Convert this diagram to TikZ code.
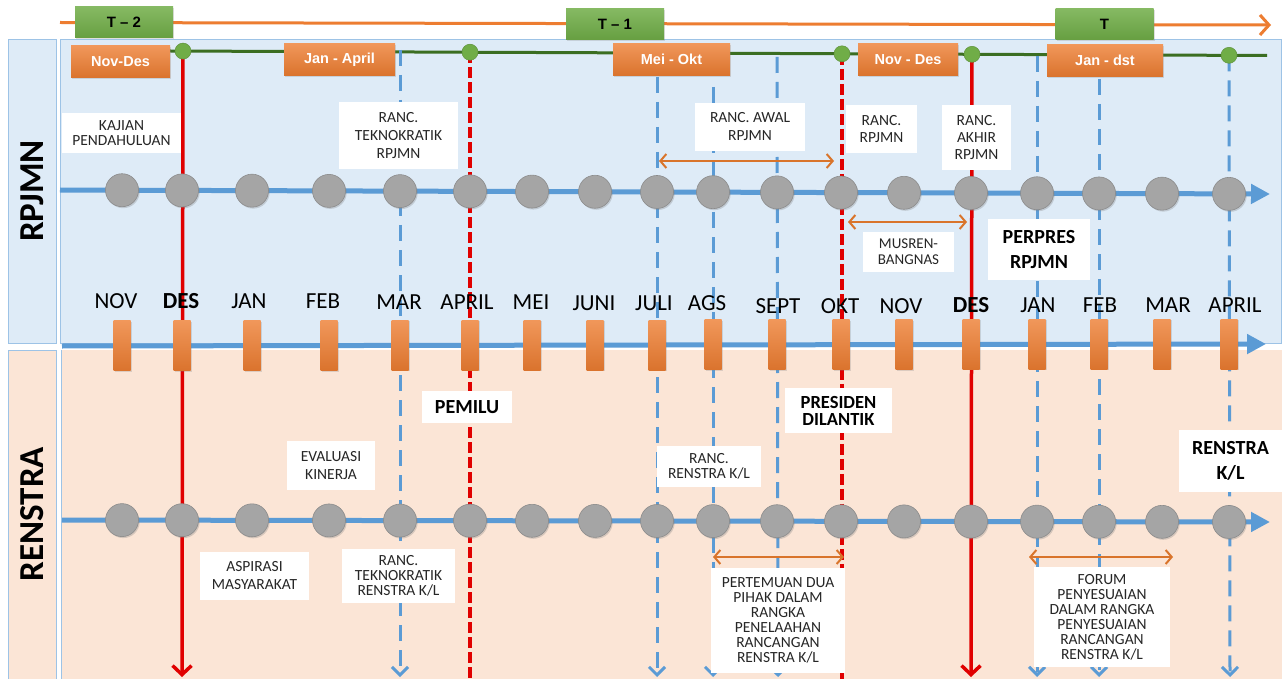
\documentclass[tikz,border=0pt]{standalone}
\usepackage{fontspec}
\setmainfont{Carlito}
\newfontfamily\arialf{Liberation Sans}
\usetikzlibrary{arrows.meta,shadows}
\definecolor{bgblue}{HTML}{DEEBF7}
\definecolor{bgpeach}{HTML}{FBE5D6}
\definecolor{lineblue}{HTML}{5B9BD5}
\definecolor{panelborder}{HTML}{9DC3E6}
\definecolor{greybead}{HTML}{A5A5A5}
\definecolor{orangebox}{HTML}{ED7D31}
\definecolor{greenbox}{HTML}{70AD47}
\definecolor{darkgreen}{HTML}{3B6E22}
\definecolor{redline}{HTML}{E00000}
\definecolor{arrorange}{HTML}{D9742B}
\definecolor{notetext}{HTML}{262626}
\tikzset{
  panelline/.style={draw=panelborder, line width=1pt},
  sidelabel/.style={rotate=90, font=\bfseries\fontsize{35}{40}\selectfont, inner sep=0pt},
  yearline/.style={draw=orangebox, line width=3pt, -{Straight Barb[length=9pt,width=20pt]}},
  greentag/.style={rectangle, top color=greenbox!85!white, bottom color=greenbox!92!black, minimum width=98pt, minimum height=31pt, inner sep=0pt, font=\arialf\bfseries\fontsize{15}{17}\selectfont, drop shadow={opacity=0.25, shadow xshift=1pt, shadow yshift=-1.5pt}},
  orangetag/.style={rectangle, top color=orangebox!80!white, bottom color=orangebox!92!black, minimum height=32pt, inner sep=0pt, text=white, font=\arialf\bfseries\fontsize{14.5}{16}\selectfont, drop shadow={opacity=0.25, shadow xshift=1pt, shadow yshift=-1.5pt}},
  greenline/.style={draw=darkgreen, line width=3pt},
  gdot/.style={circle, fill=greenbox, draw=greenbox!85!black, line width=0.5pt, minimum size=16pt, inner sep=0pt},
  redsolid/.style={draw=redline, line width=3.5pt},
  reddash/.style={draw=redline, line width=4.5pt, dash pattern=on 11pt off 4pt},
  bluedash/.style={draw=lineblue, line width=3pt, dash pattern=on 16pt off 9pt},
  downtip/.style={-{Straight Barb[length=9pt,width=19pt]}},
  bluetip/.style={-{Straight Barb[length=8pt,width=16pt]}},
  mainline/.style={draw=lineblue, line width=5pt, -{Triangle[length=19pt,width=19pt]}},
  bead/.style={circle, fill=greybead, draw=greybead!85!black, line width=0.6pt, minimum size=33pt, inner sep=0pt, drop shadow={opacity=0.3, shadow xshift=1.2pt, shadow yshift=-1.5pt}},
  ticker/.style={rectangle, top color=orangebox!80!white, bottom color=orangebox!92!black, minimum width=17pt, minimum height=50pt, inner sep=0pt, drop shadow={opacity=0.25, shadow xshift=1pt, shadow yshift=-1pt}},
  spanarrow/.style={draw=arrorange, line width=2pt, {Straight Barb[length=6pt,width=14pt]}-{Straight Barb[length=6pt,width=14pt]}},
  note/.style={rectangle, fill=white, align=center, inner sep=0pt, text=notetext, font=\fontsize{15.5}{15}\selectfont},
  boldnote/.style={rectangle, fill=white, align=center, inner sep=0pt, text=black, font=\bfseries\fontsize{20}{25}\selectfont},
  month/.style={font=\fontsize{23}{25}\selectfont, inner sep=0pt, text=black}
}
\begin{document}
\begin{tikzpicture}[x=1pt,y=-1pt]
\useasboundingbox (0,0) rectangle (1282,679);
\fill[white] (0,0) rectangle (1282,679);
% panels
\draw[panelline, fill=bgblue] (8,40) rectangle (56,343);
\draw[panelline, fill=bgblue] (60,40) rectangle (1281,343);
\draw[panelline, fill=bgpeach] (8,350) rectangle (56,685);
\fill[bgpeach] (61,350) rectangle (1282,679);
\draw[panelline] (61,350) -- (61,679);
\node[sidelabel] (sideA) at (32,191) {RPJMN};
\node[sidelabel] (sideB) at (32,514) {RENSTRA};
% year line
\coordinate (yl-start) at (60,22.5);
\coordinate (yl-end) at (1271,25);
\draw[yearline] (yl-start) -- (yl-end);
\node[greentag] (T2) at (124,22.5) {T – 2};
\node[greentag] (T1) at (615,24) {T – 1};
\node[greentag] (T0) at (1104.5,24) {T};
% green line
\coordinate (gl-start) at (170,51);
\coordinate (gl-end) at (1267,55.5);
\draw[greenline] (gl-start) -- (gl-end);
\coordinate (gp1) at (183,51.1);
\coordinate (gp2) at (470,52.2);
\coordinate (gp3) at (842,53.8);
\coordinate (gp4) at (972,54.3);
\coordinate (gp5) at (1229,55.3);
% vertical guide lines
\coordinate (vt5) at (400,50);
\coordinate (vt9) at (657,77);
\coordinate (vt10) at (713,87);
\coordinate (vt11) at (777,57);
\coordinate (vt15) at (1037,56);
\coordinate (vt16) at (1099,79);
\coordinate (vb2) at (182,677);
\coordinate (vb5) at (400,677);
\coordinate (vb6) at (470,680);
\coordinate (vb9) at (657,677);
\coordinate (vb10) at (713,677);
\coordinate (vb11) at (778,677);
\coordinate (vb12) at (842,680);
\coordinate (vb14) at (971,677);
\coordinate (vb15) at (1037,677);
\coordinate (vb16) at (1099,677);
\coordinate (vb18) at (1230,677);
\draw[redsolid, downtip] (gp1) -- (vb2);
\draw[bluedash, bluetip] (vt5) -- (vb5);
\draw[reddash] (gp2) -- (vb6);
\draw[bluedash, bluetip] (vt9) -- (vb9);
\draw[bluedash, bluetip] (vt10) -- (vb10);
\draw[bluedash, bluetip] (vt11) -- (vb11);
\draw[reddash] (gp3) -- (vb12);
\draw[redsolid, downtip] (gp4) -- (vb14);
\draw[bluedash, bluetip] (vt15) -- (vb15);
\draw[bluedash, bluetip] (vt16) -- (vb16);
\draw[bluedash, bluetip] (gp5) -- (vb18);
% green dots
\foreach \i in {1,...,5} \node[gdot] (gd\i) at (gp\i) {};
% orange tags
\node[orangetag, minimum width=99pt] (oNovDes) at (120.5,62) {Nov-Des};
\node[orangetag, minimum width=111pt] (oJanApr) at (339.5,59.5) {Jan - April};
\node[orangetag, minimum width=117pt] (oMeiOkt) at (671.5,59.5) {Mei - Okt};
\node[orangetag, minimum width=100pt] (oNovDes2) at (908,59.5) {Nov - Des};
\node[orangetag, minimum width=116pt] (oJanDst) at (1105,60.5) {Jan - dst};
% main blue lines
\coordinate (tl-start) at (60,190);
\coordinate (tl-end) at (1270,194);
\coordinate (ml-start) at (62,346);
\coordinate (ml-end) at (1266,344);
\coordinate (bl-start) at (62,520);
\coordinate (bl-end) at (1270,522);
\draw[mainline] (tl-start) -- (tl-end);
\draw[mainline] (ml-start) -- (ml-end);
\draw[mainline] (bl-start) -- (bl-end);
\foreach \x [count=\i] in {122,182,252,329,400,470,532,595,657,713,777,841,904,971,1037,1099,1162,1229} {
  \pgfmathsetmacro\yt{190+4*(\x-60)/1210}
  \pgfmathsetmacro\ym{346-2*(\x-62)/1204}
  \pgfmathsetmacro\yb{520+2*(\x-62)/1208}
  \node[bead] (t\i) at (\x,\yt) {};
  \node[ticker] (m\i) at (\x,\ym) {};
  \node[bead] (b\i) at (\x,\yb) {};
}
% span arrows
\coordinate (sa1) at (659,161);
\coordinate (sa2) at (834,161);
\coordinate (sb1) at (848,222);
\coordinate (sb2) at (967,222);
\coordinate (sc1) at (713,557);
\coordinate (sc2) at (844,557);
\coordinate (sd1) at (1029,557);
\coordinate (sd2) at (1173,557);
\draw[spanarrow] (sa1) -- (sa2);
\draw[spanarrow] (sb1) -- (sb2);
\draw[spanarrow] (sc1) -- (sc2);
\draw[spanarrow] (sd1) -- (sd2);
% notes
\node[note, minimum width=119pt, minimum height=40pt] (nKajian) at (121.5,133) {KAJIAN\\PENDAHULUAN};
\node[note, minimum width=119pt, minimum height=67pt, font=\fontsize{15.5}{18}\selectfont] (nTekRp) at (398.5,135.5) {RANC.\\TEKNOKRATIK\\RPJMN};
\node[note, minimum width=110pt, minimum height=48pt, font=\fontsize{15.5}{18}\selectfont] (nAwal) at (750,127) {RANC. AWAL\\RPJMN};
\node[note, minimum width=71pt, minimum height=48pt, font=\fontsize{15.5}{17}\selectfont] (nRanc) at (881.5,129) {RANC.\\RPJMN};
\node[note, minimum width=69pt, minimum height=65pt, font=\fontsize{15.5}{17}\selectfont] (nAkhir) at (976.5,137.5) {RANC.\\AKHIR\\RPJMN};
\node[note, minimum width=91pt, minimum height=40pt, font=\fontsize{15}{16}\selectfont] (nMus) at (908.5,252) {MUSREN-\\BANGNAS};
\node[boldnote, minimum width=102pt, minimum height=61pt] (nPerpres) at (1039,249.5) {PERPRES\\RPJMN};
\node[boldnote, minimum width=90pt, minimum height=32pt] (nPemilu) at (467,407) {PEMILU};
\node[boldnote, minimum width=107pt, minimum height=45pt, font=\bfseries\fontsize{18.5}{17}\selectfont] (nPres) at (838.5,410.5) {PRESIDEN\\DILANTIK};
\node[note, minimum width=88pt, minimum height=49pt, font=\fontsize{15.5}{18}\selectfont] (nEval) at (331,465.5) {EVALUASI\\KINERJA};
\node[note, minimum width=109pt, minimum height=48pt, font=\fontsize{15.5}{18}\selectfont] (nAsp) at (254.5,576) {ASPIRASI\\MASYARAKAT};
\node[note, minimum width=113pt, minimum height=54pt] (nTekRe) at (398.5,576) {RANC.\\TEKNOKRATIK\\RENSTRA K/L};
\node[note, minimum width=104pt, minimum height=41pt] (nRencana) at (709,466.5) {RANC.\\RENSTRA K/L};
\node[note, minimum width=134pt, minimum height=105pt] (nTemu) at (778,620.5) {PERTEMUAN DUA\\PIHAK DALAM\\RANGKA\\PENELAAHAN\\RANCANGAN\\RENSTRA K/L};
\node[note, minimum width=136pt, minimum height=100pt] (nForum) at (1102,617) {FORUM\\PENYESUAIAN\\DALAM RANGKA\\PENYESUAIAN\\RANCANGAN\\RENSTRA K/L};
\node[boldnote, minimum width=103pt, minimum height=62pt] (nRenKL) at (1230.5,461) {RENSTRA\\K/L};
% month labels
\foreach \x/\y/\t [count=\i] in {116/301/NOV, 181/301/\textbf{DES}, 249/301/JAN, 323/301/FEB, 399/302/MAR, 467/302/APRIL, 531/302/MEI, 594/303/JUNI, 654/303/JULI, 707/303/AGS, 778/306/SEPT, 840/306/OKT, 901/306/NOV, 971/305/\textbf{DES}, 1038/305/JAN, 1100/305/FEB, 1168/305/MAR, 1235/305/APRIL} {
  \node[month] (mon\i) at (\x,\y) {\t};
}
\end{tikzpicture}
\end{document}
